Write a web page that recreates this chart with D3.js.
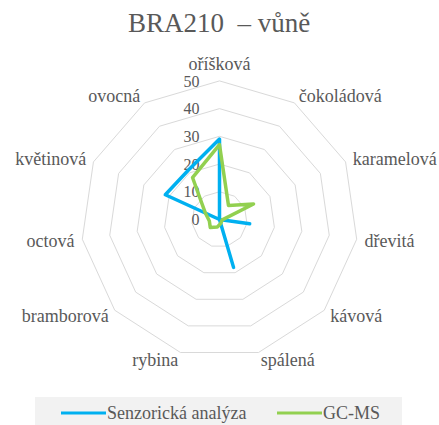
<!DOCTYPE html>
<html>
<head>
<meta charset="utf-8">
<script src="https://cdn.jsdelivr.net/npm/d3@7"></script>
<style>
  html, body { margin: 0; padding: 0; background: #fff; }
  svg { display: block; font-family: "Liberation Serif", "Times New Roman", serif; }
</style>
</head>
<body>
<div class="chart"></div>
<script>
const categories = ["oříšková", "čokoládová", "karamelová", "dřevitá", "kávová", "spálená",
  "rybina", "bramborová", "octová", "květinová", "ovocná"];
const senzorickaValues = [29, 0, 0, 11, 0, 18, 0, 0, 0, 21.5, 21];
const gcmsValues = [27, 6, 13.5, 1, 1, 1.5, 2.8, 4.4, 3.7, 5.6, 18];
const tickValues = [0, 10, 20, 30, 40, 50];
const seriesNames = ["Senzorická analýza", "GC-MS"];

let width = 439,
  height = 425,
  cx = 219.5,
  cy = 219.5,
  radius = 138.6;

const colors = ["#00b0f0", "#92d050"];
const textColor = "#595959";

let svg = d3.select(".chart").append("svg")
  .attr("width", width)
  .attr("height", height);

let rScale = d3.scaleLinear().domain([0, 50]).range([0, radius]);
let angle = d3.scaleLinear().domain([0, categories.length]).range([0, 2 * Math.PI]);

let g = svg.append("g").attr("transform", "translate(" + cx + "," + cy + ")");

// grid rings
let ringLine = d3.lineRadial()
  .angle((d, i) => angle(i))
  .radius((d) => rScale(d))
  .curve(d3.curveLinearClosed);

tickValues.filter((t) => t > 0).forEach(function (t) {
  g.append("path")
    .attr("d", ringLine(categories.map(() => t)))
    .attr("fill", "none")
    .attr("stroke", "#d9d9d9")
    .attr("stroke-width", 1);
});

// tick labels
g.selectAll(".tick-label")
  .data(tickValues)
  .enter()
  .append("text")
  .attr("class", "tick-label")
  .attr("x", -20)
  .attr("y", (d) => -rScale(d))
  .attr("dy", "0.35em")
  .attr("text-anchor", "end")
  .style("font-size", "16px")
  .style("fill", textColor)
  .text((d) => d);

// category labels
g.selectAll(".cat-label")
  .data(categories)
  .enter()
  .append("text")
  .attr("class", "cat-label")
  .attr("x", (d, i) => (radius + 8) * Math.sin(angle(i)))
  .attr("y", function (d, i) {
    let c = Math.cos(angle(i));
    let off = Math.abs(c) > 0.99 ? 17 : 8;
    return -(radius + off) * c;
  })
  .attr("dy", "0.35em")
  .attr("text-anchor", function (d, i) {
    let s = Math.sin(angle(i));
    return Math.abs(s) < 0.01 ? "middle" : s > 0 ? "start" : "end";
  })
  .style("font-size", "18px")
  .style("fill", textColor)
  .text((d) => d);

// series
let seriesLine = d3.lineRadial()
  .angle((d, i) => angle(i))
  .radius((d) => rScale(d))
  .curve(d3.curveLinearClosed);

[senzorickaValues, gcmsValues].forEach(function (vals, k) {
  g.append("path")
    .attr("d", seriesLine(vals))
    .attr("fill", "none")
    .attr("stroke", colors[k])
    .attr("stroke-width", 3.5)
    .attr("stroke-linejoin", "round");
});

// title
svg.append("text")
  .attr("x", 219)
  .attr("y", 32)
  .attr("text-anchor", "middle")
  .style("font-size", "27px")
  .style("white-space", "pre")
  .style("fill", textColor)
  .text("BRA210  – vůně");

// legend
svg.append("rect")
  .attr("x", 35)
  .attr("y", 397)
  .attr("width", 367)
  .attr("height", 28)
  .attr("fill", "#f2f2f2");

const legendX = [61, 277];
let legend = svg.selectAll(".legend-item")
  .data(seriesNames)
  .enter()
  .append("g")
  .attr("class", "legend-item")
  .attr("transform", (d, i) => "translate(" + legendX[i] + ",413)");

legend.append("line")
  .attr("x1", 0)
  .attr("x2", 45)
  .attr("stroke", (d, i) => colors[i])
  .attr("stroke-width", 3);

legend.append("text")
  .attr("x", 46)
  .attr("dy", "0.35em")
  .style("font-size", "18px")
  .style("fill", textColor)
  .text((d) => d);
</script>
</body>
</html>
